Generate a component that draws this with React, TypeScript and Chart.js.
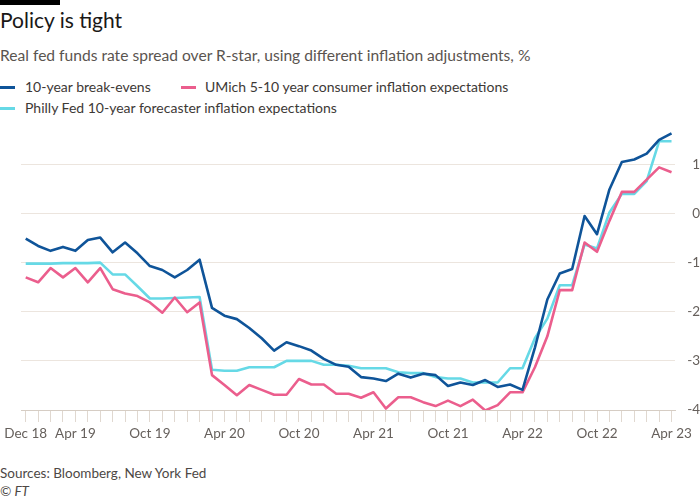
import React, { useEffect, useRef } from "react";
import { Chart, registerables } from "chart.js";

Chart.register(...registerables);

const months = [
  "Dec 18", "Jan 19", "Feb 19", "Mar 19", "Apr 19", "May 19", "Jun 19", "Jul 19", "Aug 19", "Sep 19", "Oct 19", "Nov 19", "Dec 19",
  "Jan 20", "Feb 20", "Mar 20", "Apr 20", "May 20", "Jun 20", "Jul 20", "Aug 20", "Sep 20", "Oct 20", "Nov 20", "Dec 20",
  "Jan 21", "Feb 21", "Mar 21", "Apr 21", "May 21", "Jun 21", "Jul 21", "Aug 21", "Sep 21", "Oct 21", "Nov 21", "Dec 21",
  "Jan 22", "Feb 22", "Mar 22", "Apr 22", "May 22", "Jun 22", "Jul 22", "Aug 22", "Sep 22", "Oct 22", "Nov 22", "Dec 22",
  "Jan 23", "Feb 23", "Mar 23", "Apr 23",
];

const tickLabels = ["Dec 18", "Apr 19", "Oct 19", "Apr 20", "Oct 20", "Apr 21", "Oct 21", "Apr 22", "Oct 22", "Apr 23"];

const yTicks = [-4, -3, -2, -1, 0, 1];

const breakevens = [
  -0.51, -0.66, -0.76, -0.68, -0.76, -0.54, -0.49, -0.79, -0.59, -0.81, -1.07, -1.15, -1.30,
  -1.15, -0.94, -1.92, -2.08, -2.15, -2.33, -2.54, -2.79, -2.62, -2.70, -2.79, -2.96,
  -3.08, -3.12, -3.33, -3.36, -3.41, -3.26, -3.34, -3.26, -3.29, -3.51, -3.44, -3.49,
  -3.39, -3.53, -3.48, -3.59, -2.73, -1.75, -1.22, -1.13, -0.05, -0.42, 0.49, 1.05,
  1.10, 1.22, 1.50, 1.63,
];

const umich = [
  -1.30, -1.40, -1.11, -1.30, -1.11, -1.40, -1.11, -1.54, -1.63, -1.68, -1.81, -2.02, -1.71,
  -2.01, -1.81, -3.29, -3.49, -3.70, -3.49, -3.59, -3.69, -3.69, -3.37, -3.48, -3.48,
  -3.67, -3.67, -3.75, -3.64, -3.97, -3.74, -3.74, -3.84, -3.92, -3.81, -3.92, -3.79,
  -4.01, -3.90, -3.64, -3.64, -3.13, -2.50, -1.56, -1.56, -0.59, -0.78, -0.15, 0.44,
  0.44, 0.69, 0.94, 0.84,
];

const philly = [
  -1.02, -1.02, -1.02, -1.01, -1.01, -1.01, -1.00, -1.24, -1.24, -1.48, -1.73, -1.73, -1.72,
  -1.71, -1.70, -3.18, -3.20, -3.20, -3.13, -3.13, -3.13, -3.00, -3.00, -3.00, -3.08,
  -3.08, -3.10, -3.15, -3.15, -3.15, -3.23, -3.25, -3.25, -3.33, -3.36, -3.36, -3.44,
  -3.44, -3.44, -3.15, -3.15, -2.54, -2.14, -1.46, -1.46, -0.63, -0.71, 0.02, 0.40,
  0.40, 0.66, 1.47, 1.47,
];

const BLUE = "#0f5499";
const PINK = "#eb5e8d";
const CYAN = "#66d9e6";
const FONT = "Lato, 'Liberation Sans', sans-serif";

const toPoints = (vals: number[]) => vals.map((v, i) => ({ x: i, y: v }));

export default function App() {
  const ref = useRef<HTMLCanvasElement | null>(null);

  useEffect(() => {
    if (!ref.current) return;
    const chart = new Chart(ref.current, {
      type: "line",
      data: {
        datasets: [
          { label: "10-year break-evens", data: toPoints(breakevens), borderColor: BLUE },
          { label: "UMich 5-10 year consumer inflation expectations", data: toPoints(umich), borderColor: PINK },
          { label: "Philly Fed 10-year forecaster inflation expectations", data: toPoints(philly), borderColor: CYAN },
        ].map((d) => ({
          ...d,
          borderWidth: 2.6,
          pointRadius: 0,
          tension: 0,
          borderJoinStyle: "round" as const,
          borderCapStyle: "butt" as const,
          fill: false,
        })),
      },
      options: {
        animation: false,
        responsive: false,
        maintainAspectRatio: false,
        layout: { padding: { left: 21, right: 0, top: 7, bottom: 0 } },
        plugins: { legend: { display: false }, tooltip: { enabled: false } },
        scales: {
          x: {
            type: "linear",
            min: -0.38,
            max: 52.28,
            afterBuildTicks: (scale: any) => {
              scale.ticks = months.map((_, i) => ({ value: i }));
            },
            afterFit: (scale: any) => {
              scale.height = 45;
            },
            ticks: {
              autoSkip: false,
              maxRotation: 0,
              minRotation: 0,
              padding: 4,
              color: "#66605c",
              font: { family: FONT, size: 13.5 },
              callback: (value: any) => {
                const m = months[Math.round(Number(value))];
                return tickLabels.includes(m) ? m : "";
              },
            },
            grid: {
              drawOnChartArea: false,
              drawTicks: true,
              tickLength: 12,
              color: "#e0d8d0",
              lineWidth: 1,
            },
            border: { display: true, color: "#d6cdc4", width: 1 },
          },
          y: {
            position: "right",
            min: -4,
            max: 1.8,
            afterBuildTicks: (scale: any) => {
              scale.ticks = yTicks.map((v) => ({ value: v }));
            },
            afterFit: (scale: any) => {
              scale.width = 25;
            },
            ticks: {
              crossAlign: "far",
              padding: 7,
              color: "#66605c",
              font: { family: FONT, size: 13.5 },
              callback: (value: any) => String(value),
            },
            grid: {
              drawTicks: false,
              color: (ctx: any) => (ctx.tick && ctx.tick.value === -4 ? "rgba(0,0,0,0)" : "#ece5de"),
              lineWidth: 1,
            },
            border: { display: false },
          },
        },
      },
    });
    return () => chart.destroy();
  }, []);

  const text = (extra: React.CSSProperties): React.CSSProperties => ({
    position: "absolute",
    left: 0,
    whiteSpace: "nowrap",
    fontFamily: FONT,
    margin: 0,
    ...extra,
  });

  const marker = (color: string, left: number, top: number): React.CSSProperties => ({
    position: "absolute",
    left,
    top,
    width: 15,
    height: 3,
    background: color,
  });

  return (
    <div style={{ position: "absolute", left: 0, top: 0, width: 700, height: 500, background: "#fff", overflow: "hidden" }}>
      <div style={{ position: "absolute", left: 0, top: 0, width: 60, height: 5, background: "#000" }} />
      <div style={text({ top: 7, fontSize: 21, lineHeight: "26px", color: "#1a1817" })}>Policy is tight</div>
      <div style={text({ top: 45, fontSize: 15.6, lineHeight: "21px", color: "#5a5450" })}>
        Real fed funds rate spread over R-star, using different inflation adjustments, %
      </div>
      <div style={marker(BLUE, 0, 86)} />
      <div style={text({ left: 25, top: 77, fontSize: 14, lineHeight: "20px", color: "#3d3936" })}>10-year break-evens</div>
      <div style={marker(PINK, 181, 86)} />
      <div style={text({ left: 205, top: 77, fontSize: 14, lineHeight: "20px", color: "#3d3936" })}>
        UMich 5-10 year consumer inflation expectations
      </div>
      <div style={marker(CYAN, 0, 107)} />
      <div style={text({ left: 25, top: 98, fontSize: 14, lineHeight: "20px", color: "#3d3936" })}>
        Philly Fed 10-year forecaster inflation expectations
      </div>
      <canvas ref={ref} width={700} height={345} style={{ position: "absolute", left: 0, top: 110, width: 700, height: 345 }} />
      <div style={text({ top: 464, fontSize: 13.5, lineHeight: "18px", color: "#4d4845" })}>Sources: Bloomberg, New York Fed</div>
      <div style={text({ top: 482, fontSize: 13.5, lineHeight: "18px", color: "#4d4845", fontStyle: "italic" })}>© FT</div>
    </div>
  );
}
